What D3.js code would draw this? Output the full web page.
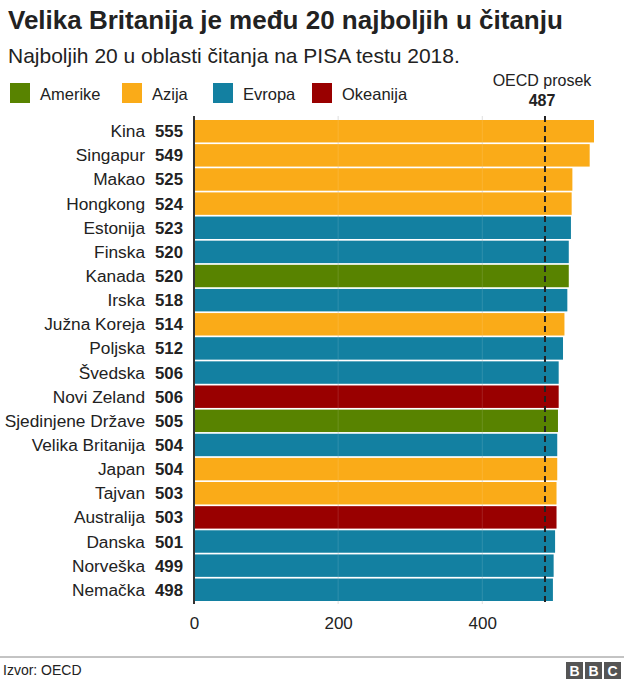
<!DOCTYPE html>
<html>
<head>
<meta charset="utf-8">
<script src="https://cdn.jsdelivr.net/npm/d3@7"></script>
<style>
  body { margin: 0; background: #fff; }
  text { font-family: "Liberation Sans", Arial, Helvetica, sans-serif; }
</style>
</head>
<body>
<div id="chart"></div>
<script>
// data
var countries = ['Kina','Singapur','Makao','Hongkong','Estonija','Finska','Kanada','Irska','Južna Koreja','Poljska',
  'Švedska','Novi Zeland','Sjedinjene Države','Velika Britanija','Japan','Tajvan','Australija','Danska','Norveška','Nemačka']
var scores = [555,549,525,524,523,520,520,518,514,512,506,506,505,504,504,503,503,501,499,498]
var regions = ['Azija','Azija','Azija','Azija','Evropa','Evropa','Amerike','Evropa','Azija','Evropa',
  'Evropa','Okeanija','Amerike','Evropa','Azija','Azija','Okeanija','Evropa','Evropa','Evropa']
var regionNames = ['Amerike','Azija','Evropa','Okeanija']
var regionColors = ['#588300','#FAAB18','#1380A1','#990000']
var xTicks = [0, 200, 400]
var oecdAvg = 487

var width = 624, height = 680

var svg = d3.select('#chart').append('svg')
  .attr('width', width)
  .attr('height', height)

var color = d3.scaleOrdinal().domain(regionNames).range(regionColors)

var x = d3.scaleLinear().domain([0, 555]).range([194, 594])
var y = d3.scaleBand().domain(countries).range([120, 601]).paddingInner(0.07)

// title + subtitle
svg.append('text').attr('x', 8).attr('y', 29)
  .attr('font-size', 26).attr('font-weight', 'bold').attr('fill', '#222')
  .text('Velika Britanija je među 20 najboljih u čitanju')
svg.append('text').attr('x', 8).attr('y', 63)
  .attr('font-size', 21).attr('fill', '#222')
  .text('Najboljih 20 u oblasti čitanja na PISA testu 2018.')

// legend
var legendX = [10, 122, 213, 312]
var leg = svg.selectAll('.leg').data(regionNames).enter().append('g')
  .attr('class', 'leg')
  .attr('transform', function (d, i) { return 'translate(' + legendX[i] + ',83)' })
leg.append('rect').attr('width', 20).attr('height', 20)
  .attr('fill', function (d) { return color(d) })
leg.append('text').attr('x', 30).attr('y', 17)
  .attr('font-size', 16.5).attr('fill', '#222')
  .text(function (d) { return d })

// gridlines
svg.selectAll('.grid').data(xTicks.slice(1)).enter().append('line')
  .attr('class', 'grid')
  .attr('x1', function (d) { return x(d) }).attr('x2', function (d) { return x(d) })
  .attr('y1', 116).attr('y2', 604)
  .attr('stroke', '#dddddd').attr('stroke-width', 1)

// bars
svg.selectAll('.bar').data(countries).enter().append('rect')
  .attr('class', 'bar')
  .attr('x', x(0))
  .attr('y', function (d) { return y(d) })
  .attr('width', function (d, i) { return x(scores[i]) - x(0) })
  .attr('height', y.bandwidth())
  .attr('fill', function (d, i) { return color(regions[i]) })

// faint gridlines showing through bars
svg.selectAll('.grid2').data(xTicks.slice(1)).enter().append('line')
  .attr('x1', function (d) { return x(d) }).attr('x2', function (d) { return x(d) })
  .attr('y1', 116).attr('y2', 604)
  .attr('stroke', '#ffffff').attr('stroke-opacity', 0.12)

// country names and values
svg.selectAll('.name').data(countries).enter().append('text')
  .attr('x', 145)
  .attr('y', function (d) { return y(d) + y.bandwidth() / 2 + 6 })
  .attr('text-anchor', 'end').attr('font-size', 17.3).attr('fill', '#222')
  .text(function (d) { return d })
svg.selectAll('.val').data(countries).enter().append('text')
  .attr('x', 155)
  .attr('y', function (d) { return y(d) + y.bandwidth() / 2 + 6 })
  .attr('font-size', 16.8).attr('font-weight', 'bold').attr('fill', '#222')
  .text(function (d, i) { return scores[i] })

// OECD average
svg.append('line')
  .attr('x1', x(oecdAvg)).attr('x2', x(oecdAvg))
  .attr('y1', 116).attr('y2', 604)
  .attr('stroke', '#222').attr('stroke-width', 2).attr('stroke-dasharray', '6,4')
svg.append('text').attr('x', x(oecdAvg) - 3).attr('y', 86)
  .attr('text-anchor', 'middle').attr('font-size', 16).attr('fill', '#222')
  .text('OECD prosek')
svg.append('text').attr('x', x(oecdAvg) - 3).attr('y', 106)
  .attr('text-anchor', 'middle').attr('font-size', 16).attr('font-weight', 'bold').attr('fill', '#222')
  .text(oecdAvg)

// x axis labels
var xAxis = d3.axisBottom(x).tickValues(xTicks).tickSize(0).tickPadding(0)
var ax = svg.append('g').attr('transform', 'translate(0,617)').call(xAxis)
ax.select('.domain').remove()
ax.selectAll('text').attr('font-size', 17).attr('fill', '#222').attr('dy', '0.72em')
  .style('font-family', '"Liberation Sans", Arial, sans-serif')

// baseline
svg.append('line')
  .attr('x1', x(0)).attr('x2', x(0))
  .attr('y1', 116).attr('y2', 604)
  .attr('stroke', '#333').attr('stroke-width', 2)

// footer
svg.append('line').attr('x1', 0).attr('x2', width).attr('y1', 657).attr('y2', 657)
  .attr('stroke', '#888').attr('stroke-width', 1)
svg.append('text').attr('x', 3).attr('y', 675)
  .attr('font-size', 14).attr('fill', '#222').text('Izvor: OECD')

var bbc = svg.append('g').attr('transform', 'translate(566,662)')
;['B','B','C'].forEach(function (ch, i) {
  bbc.append('rect').attr('x', i * 19).attr('y', 0).attr('width', 17).attr('height', 17).attr('fill', '#555')
  bbc.append('text').attr('x', i * 19 + 8.5).attr('y', 14)
    .attr('text-anchor', 'middle').attr('font-size', 14).attr('font-weight', 'bold').attr('fill', '#fff')
    .text(ch)
})
</script>
</body>
</html>
